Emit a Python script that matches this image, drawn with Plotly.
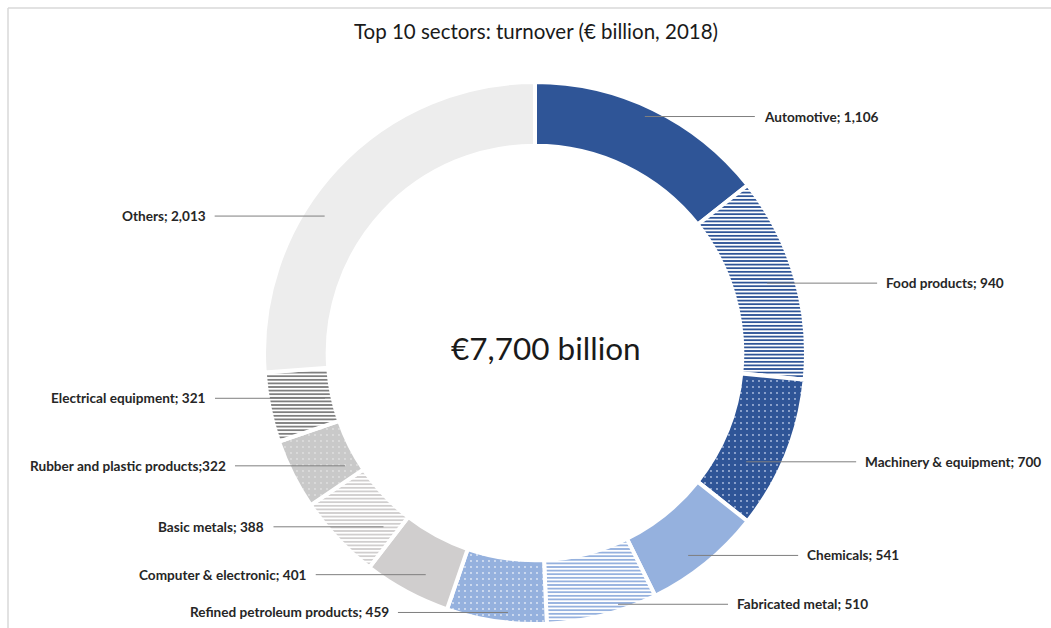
import numpy as np
import plotly.graph_objects as go

# Sector turnover, € billion, 2018 (clockwise from 12 o'clock)
sectors = [
    "Automotive", "Food products", "Machinery & equipment", "Chemicals",
    "Fabricated metal", "Refined petroleum products", "Computer & electronic",
    "Basic metals", "Rubber and plastic products", "Electrical equipment", "Others",
]
turnover = [1106, 940, 700, 541, 510, 459, 401, 388, 322, 321, 2013]
label_sep = ["; ", "; ", "; ", "; ", "; ", "; ", "; ", "; ", ";", "; ", "; "]
total_text = "€7,700 billion"
title_text = "Top 10 sectors: turnover (€ billion, 2018)"

# Fill styles per slice
fill_shape = ["", "-", ".", "", "-", ".", "", "-", ".", "-", ""]
bg_colors = ["#2F5597", "#FFFFFF", "#2F5597", "#95B1DE", "#FFFFFF", "#95B1DE",
             "#D0CECE", "#FFFFFF", "#C9C9C9", "#FFFFFF", "#EDEDED"]
fg_colors = ["#2F5597", "#2F5597", "#B4C4E4", "#95B1DE", "#95B1DE", "#E4EBF7",
             "#D0CECE", "#D0CECE", "#E2E2E2", "#7F7F7F", "#EDEDED"]
fill_size = [4, 3.6, 6, 4, 3.6, 6, 4, 3.6, 6, 3.6, 4]
fill_solidity = [0.3, 0.5, 0.07, 0.3, 0.5, 0.07, 0.3, 0.5, 0.07, 0.5, 0.3]

# Label placement offsets (px) relative to the slice anchor point
label_dx = [3, -3, -16, -1, 22, 8, 7, 27, 29, 30, -31]
label_dy = [-16, -1, 17, 12, 14, 17, 6, 6, 3, -4, 30]

W, H = 1051, 628
CX, CY, R_OUT = 535, 353, 271
HOLE = 0.765
R_ANCHOR = 245
LEADER = 110
GAP = 7


def px(x):
    return x / W


def py(y):
    return 1 - y / H


fig = go.Figure()
fig.add_trace(go.Pie(
    labels=sectors,
    values=turnover,
    sort=False,
    direction="clockwise",
    rotation=0,
    hole=HOLE,
    textinfo="none",
    hoverinfo="label+value",
    showlegend=False,
    domain=dict(x=[px(CX - R_OUT), px(CX + R_OUT)], y=[py(CY + R_OUT), py(CY - R_OUT)]),
    marker=dict(
        colors=bg_colors,
        line=dict(color="#FFFFFF", width=4),
        pattern=dict(
            shape=fill_shape,
            fgcolor=fg_colors,
            bgcolor=bg_colors,
            size=fill_size,
            solidity=fill_solidity,
        ),
    ),
))

# Leader lines and outside labels
values = np.array(turnover, dtype=float)
cum = np.cumsum(values)
mid_frac = (cum - values / 2) / values.sum()
theta = 2 * np.pi * mid_frac

shapes = []
annotations = []
for i, name in enumerate(sectors):
    ax = CX + R_ANCHOR * np.sin(theta[i]) + label_dx[i]
    ay = CY - R_ANCHOR * np.cos(theta[i]) + label_dy[i]
    right = mid_frac[i] < 0.5
    ex = ax + LEADER if right else ax - LEADER
    shapes.append(dict(type="line", xref="paper", yref="paper",
                       x0=px(ax), y0=py(ay), x1=px(ex), y1=py(ay),
                       line=dict(color="#7F7F7F", width=1)))
    annotations.append(dict(
        xref="paper", yref="paper",
        x=px(ex + GAP if right else ex - GAP), y=py(ay),
        xanchor="left" if right else "right", yanchor="middle",
        text=f"<b>{name}{label_sep[i]}{turnover[i]:,}</b>",
        showarrow=False,
        font=dict(family="Lato, sans-serif", size=13.6, color="#262626"),
    ))

# Total in the centre of the ring
annotations.append(dict(
    xref="paper", yref="paper", x=px(546), y=py(348),
    xanchor="center", yanchor="middle", text=total_text, showarrow=False,
    font=dict(family="Lato, sans-serif", size=31.5, color="#1A1A1A"),
))

# Chart frame
shapes.append(dict(type="line", xref="paper", yref="paper",
                   x0=px(8), y0=py(8), x1=1, y1=py(8),
                   line=dict(color="#D9D9D9", width=1.5)))
shapes.append(dict(type="line", xref="paper", yref="paper",
                   x0=px(8), y0=py(8), x1=px(8), y1=0,
                   line=dict(color="#D9D9D9", width=1.5)))

fig.update_layout(
    width=W, height=H,
    margin=dict(l=0, r=0, t=0, b=0),
    paper_bgcolor="#FFFFFF",
    plot_bgcolor="#FFFFFF",
    title=dict(text=title_text, x=px(536), y=py(32), xanchor="center", yanchor="middle",
               font=dict(family="Lato, sans-serif", size=20.5, color="#1A1A1A")),
    shapes=shapes,
    annotations=annotations,
)

fig.write_html("out.html")
